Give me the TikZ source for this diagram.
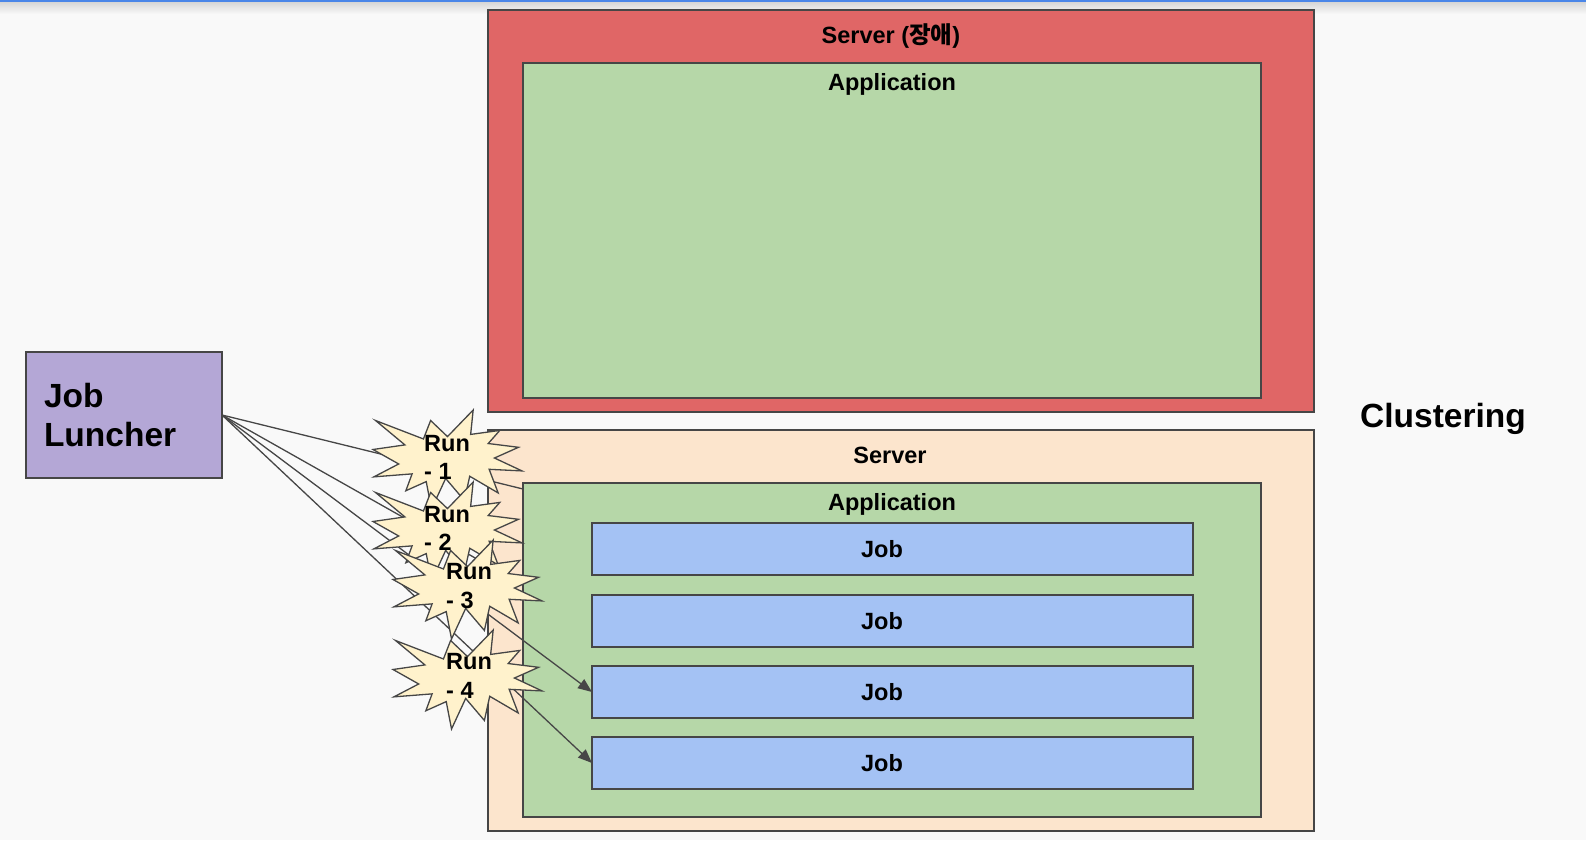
\documentclass[tikz,border=0pt]{standalone}
\usepackage{fontspec}
\setmainfont{Liberation Sans}
\newfontfamily\krfont{Noto Sans CJK KR}
\usetikzlibrary{arrows.meta}
\definecolor{bg}{HTML}{F9F9F9}
\definecolor{chrome}{HTML}{4A86E8}
\definecolor{shadowgray}{HTML}{D6D6D6}
\definecolor{edge}{HTML}{464646}
\definecolor{redsrv}{HTML}{E06666}
\definecolor{greenapp}{HTML}{B6D7A8}
\definecolor{peachsrv}{HTML}{FCE5CD}
\definecolor{bluejob}{HTML}{A4C2F4}
\definecolor{purplel}{HTML}{B4A7D6}
\definecolor{starfill}{HTML}{FFF2CC}
\newcommand\sealat[2]{%
  \begin{scope}[shift={(#1,#2)}, x=0.6898pt, y=-0.4583pt]
    \filldraw[sealshape] (108,58) -- (145.22,0) -- (141.55,53.25) -- (183.80,44.57) -- (167.02,73.15)
      -- (210.97,81.37) -- (176.07,104.75) -- (216,132.90) -- (168.37,129.42) -- (181.45,180.95)
      -- (140.20,144.57) -- (132.47,197.37) -- (105.32,149.35) -- (84.85,216) -- (77.15,156.27)
      -- (47.62,176.17) -- (56.67,139.37) -- (1.35,145.87) -- (37.22,117.75) -- (0,86.15)
      -- (46.27,76.17) -- (3.70,22.95) -- (73.12,63.20) -- (83.52,22.95) -- cycle;
  \end{scope}}
\begin{document}
\begin{tikzpicture}[x=1pt,y=-1pt,
  box/.style={draw=edge, line width=1.6pt, inner sep=0pt, outer sep=0pt},
  lbl/.style={font=\bfseries\fontsize{23.5}{28}\selectfont, inner sep=0pt, anchor=base},
  runlbl/.style={font=\bfseries\fontsize{23.5}{28.5}\selectfont, inner sep=0pt, anchor=base west},
  conn/.style={draw=edge, line width=1.3pt},
  arr/.style={conn, -{Triangle[length=14pt,width=11pt]}},
  sealshape/.style={fill=starfill, draw=edge, line width=1.3pt, line join=miter}]
\useasboundingbox (0,0) rectangle (1586,840);
\fill[bg] (0,0) rectangle (1586,840);
\shade[top color=shadowgray, bottom color=bg] (0,2) rectangle (1586,14);
\fill[chrome] (0,0) rectangle (1586,2);

% servers and applications
\node[box, fill=redsrv, minimum width=826pt, minimum height=402pt] (srv1) at (901,211) {};
\node[box, fill=greenapp, minimum width=738pt, minimum height=335pt] (app1) at (892,230.5) {};
\node[box, fill=peachsrv, minimum width=826pt, minimum height=401pt] (srv2) at (901,630.5) {};
\node[box, fill=greenapp, minimum width=738pt, minimum height=334pt] (app2) at (892,650) {};
\foreach \i/\y in {1/549,2/621,3/692,4/763}{
  \node[box, fill=bluejob, minimum width=601pt, minimum height=52pt] (job\i) at (892.5,\y) {};
  \node[lbl] (jobt\i) at (882,\y+8.5) {Job};
}
\node[lbl] (srv1t) at (891,43.5) {Server ({\krfont 장애})};
\node[lbl] (app1t) at (892,91) {Application};
\node[lbl] (srv2t) at (890,463) {Server};
\node[lbl] (app2t) at (892,510.5) {Application};
\node[lbl, font=\bfseries\fontsize{33.5}{38}\selectfont] (clu) at (1443,427.5) {Clustering};

% launcher
\node[box, fill=purplel, minimum width=196pt, minimum height=126pt, inner xsep=18pt,
      text width=160pt, align=left, font=\bfseries\fontsize{33.5}{39.5}\selectfont] (lun) at (124,415) {Job\\Luncher};

% connectors
\coordinate (e1) at (523,489);
\coordinate (e2) at (523,585);
\draw[conn] (lun.east) -- (e1);
\draw[conn] (lun.east) -- (e2);
\draw[arr] (lun.east) -- (job3.west);
\draw[arr] (lun.east) -- (job4.west);

% run bursts
\sealat{373}{410}
\node[runlbl] (run1) at (424,451) {\vtop{\hbox{Run}\hbox{- 1}}};
\sealat{373}{482}
\node[runlbl] (run2) at (424,522) {\vtop{\hbox{Run}\hbox{- 2}}};
\sealat{393}{540}
\node[runlbl] (run3) at (446,579.5) {\vtop{\hbox{Run}\hbox{- 3}}};
\sealat{393}{630}
\node[runlbl] (run4) at (446,669.5) {\vtop{\hbox{Run}\hbox{- 4}}};
\end{tikzpicture}
\end{document}
